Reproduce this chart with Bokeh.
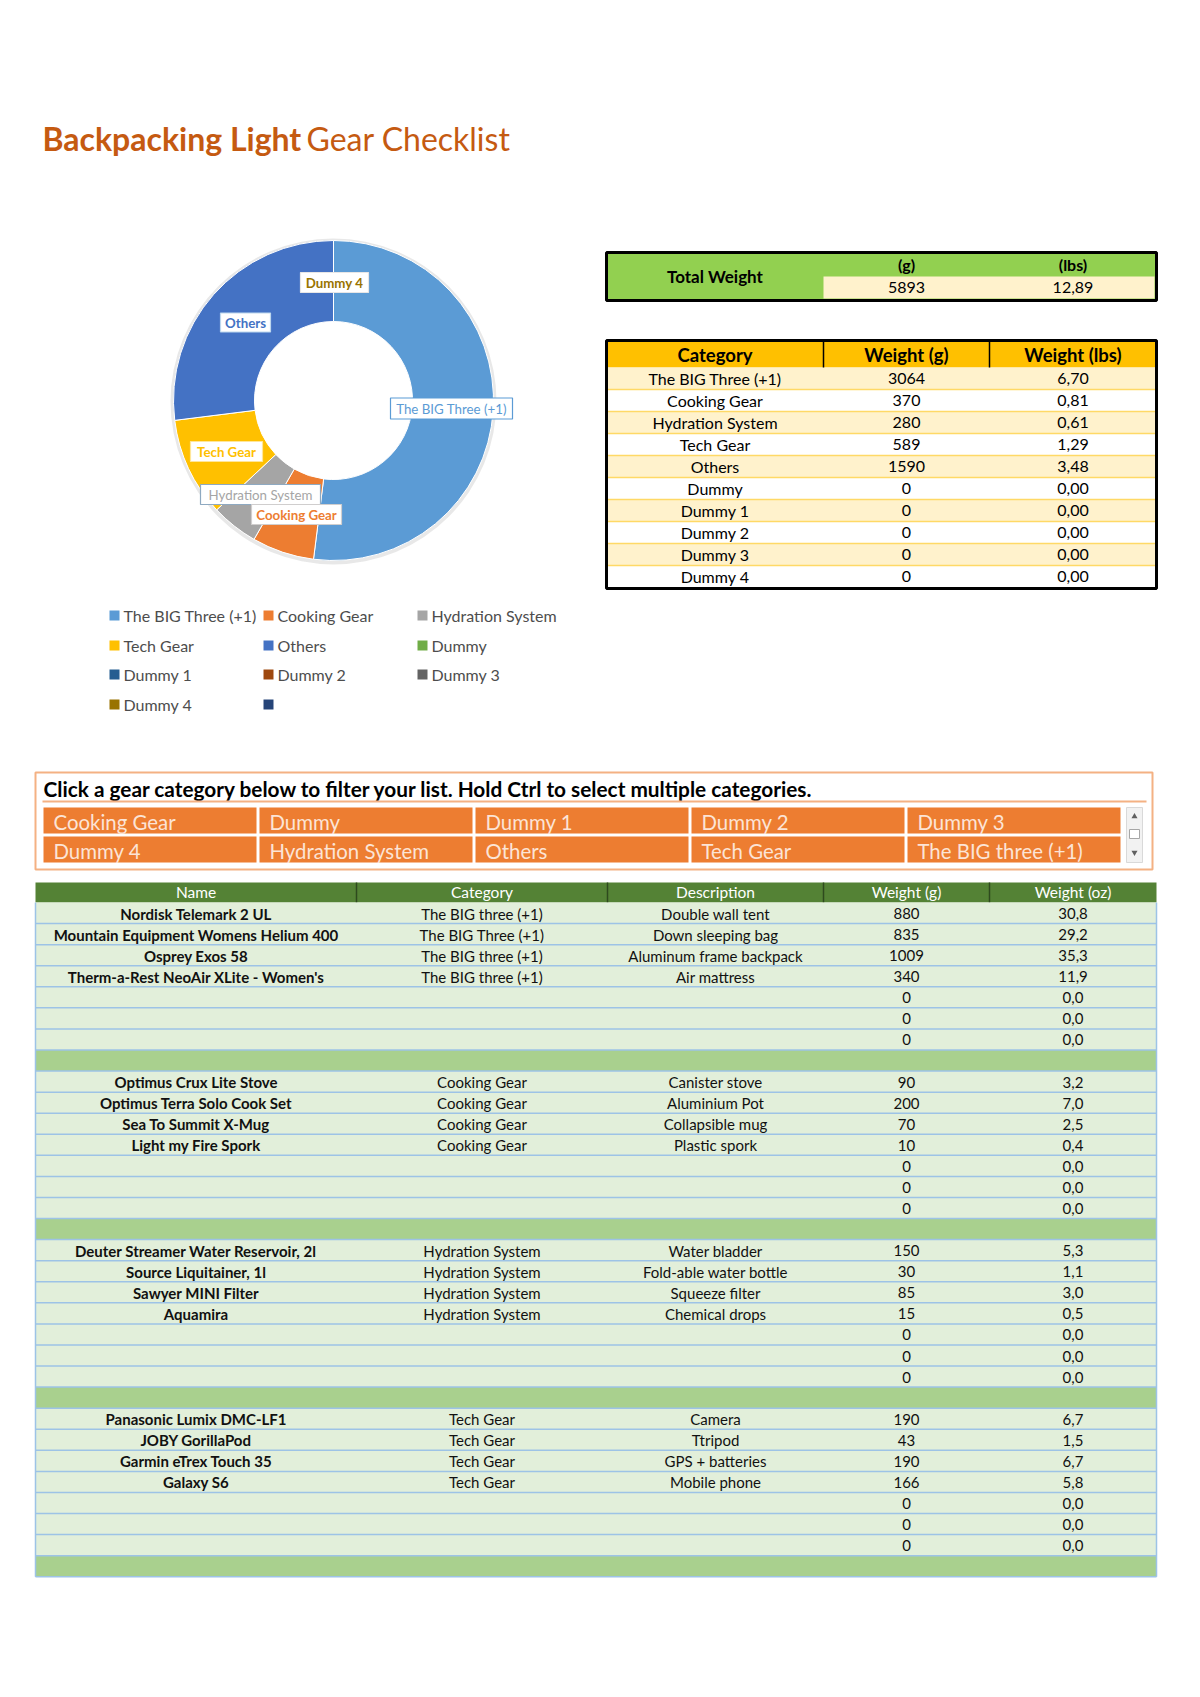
import numpy as np
from bokeh.plotting import figure
from bokeh.models import Range1d, ColumnDataSource
from bokeh.core.properties import value
from bokeh.embed import file_html
from bokeh.resources import INLINE

# ---------------- data ----------------
title_bold = "Backpacking Light"
title_regular = "Gear Checklist"

chart_categories = ["The BIG Three (+1)", "Cooking Gear", "Hydration System", "Tech Gear", "Others",
                    "Dummy", "Dummy 1", "Dummy 2", "Dummy 3", "Dummy 4", ""]
chart_weights_g = [3064, 370, 280, 589, 1590, 0, 0, 0, 0, 0, 0]
chart_colors = ["#5B9BD5", "#ED7D31", "#A5A5A5", "#FFC000", "#4472C4",
                "#70AD47", "#255E91", "#9E480E", "#636363", "#997300", "#264478"]

summary_header = ["Category", "Weight (g)", "Weight (lbs)"]
summary_categories = ["The BIG Three (+1)", "Cooking Gear", "Hydration System", "Tech Gear", "Others",
                      "Dummy", "Dummy 1", "Dummy 2", "Dummy 3", "Dummy 4"]
summary_weights_g = [3064, 370, 280, 589, 1590, 0, 0, 0, 0, 0]
summary_weights_lbs = [6.70, 0.81, 0.61, 1.29, 3.48, 0.00, 0.00, 0.00, 0.00, 0.00]

total_label = "Total Weight"
total_units = ["(g)", "(lbs)"]
total_weight_g = 5893
total_weight_lbs = 12.89

filter_title = "Click a gear category below to filter your list. Hold Ctrl to select multiple categories."
filter_buttons = ["Cooking Gear", "Dummy", "Dummy 1", "Dummy 2", "Dummy 3",
                  "Dummy 4", "Hydration System", "Others", "Tech Gear", "The BIG three (+1)"]

gear_header = ["Name", "Category", "Description", "Weight (g)", "Weight (oz)"]
gear_names = [
    "Nordisk Telemark 2 UL", "Mountain Equipment Womens Helium 400", "Osprey Exos 58",
    "Therm-a-Rest NeoAir XLite - Women's", "", "", "",
    "Optimus Crux Lite Stove", "Optimus Terra Solo Cook Set", "Sea To Summit X-Mug",
    "Light my Fire Spork", "", "", "",
    "Deuter Streamer Water Reservoir, 2l", "Source Liquitainer, 1l", "Sawyer MINI Filter",
    "Aquamira", "", "", "",
    "Panasonic Lumix DMC-LF1", "JOBY GorillaPod", "Garmin eTrex Touch 35", "Galaxy S6", "", "", "",
]
gear_categories = [
    "The BIG three (+1)", "The BIG Three (+1)", "The BIG three (+1)", "The BIG three (+1)", "", "", "",
    "Cooking Gear", "Cooking Gear", "Cooking Gear", "Cooking Gear", "", "", "",
    "Hydration System", "Hydration System", "Hydration System", "Hydration System", "", "", "",
    "Tech Gear", "Tech Gear", "Tech Gear", "Tech Gear", "", "", "",
]
gear_descriptions = [
    "Double wall tent", "Down sleeping bag", "Aluminum frame backpack", "Air mattress", "", "", "",
    "Canister stove", "Aluminium Pot", "Collapsible mug", "Plastic spork", "", "", "",
    "Water bladder", "Fold-able water bottle", "Squeeze filter", "Chemical drops", "", "", "",
    "Camera", "Ttripod", "GPS + batteries", "Mobile phone", "", "", "",
]
gear_weights_g = [880, 835, 1009, 340, 0, 0, 0,
                  90, 200, 70, 10, 0, 0, 0,
                  150, 30, 85, 15, 0, 0, 0,
                  190, 43, 190, 166, 0, 0, 0]
gear_weights_oz = [30.8, 29.2, 35.3, 11.9, 0.0, 0.0, 0.0,
                   3.2, 7.0, 2.5, 0.4, 0.0, 0.0, 0.0,
                   5.3, 1.1, 3.0, 0.5, 0.0, 0.0, 0.0,
                   6.7, 1.5, 6.7, 5.8, 0.0, 0.0, 0.0]

# ---------------- page setup (page pixel coordinates, y down -> plotted as -y) ----------------
W, H = 1184, 1681
FONT = "Lato"
p = figure(width=W, height=H, x_range=Range1d(0, W), y_range=Range1d(-H, 0),
           output_backend="svg", toolbar_location=None, min_border=0,
           x_axis_location=None, y_axis_location=None, outline_line_color=None)
p.grid.visible = False
p.background_fill_color = "white"
p.border_fill_color = "white"


def comma(v, d):
    return f"{v:.{d}f}".replace(".", ",")


def boxes(l, r, t, b, fill, line=None, lw=1.0, alpha=1.0):
    n = len(l)
    fill = fill if isinstance(fill, list) else [fill] * n
    line = line if isinstance(line, list) else [line] * n
    src = ColumnDataSource(dict(left=l, right=r, top=[-v for v in t], bottom=[-v for v in b],
                                fill=fill, line=line))
    p.quad(left="left", right="right", top="top", bottom="bottom", source=src,
           fill_color="fill", line_color="line", line_width=lw, fill_alpha=alpha)


def segs(x0, y0, x1, y1, color, lw):
    p.segment(x0=x0, y0=[-v for v in y0], x1=x1, y1=[-v for v in y1], line_color=color, line_width=lw)


def texts(xs, ys, labels, size, color, bold=False, align="center", baseline="middle", font=FONT):
    n = len(xs)
    color = color if isinstance(color, list) else [color] * n
    src = ColumnDataSource(dict(x=xs, y=[-v for v in ys], t=labels, c=color))
    p.text(x="x", y="y", text="t", source=src, text_color="c", text_font=value(font),
           text_font_size=value(f"{size}px"), text_font_style="bold" if bold else "normal",
           text_align=align, text_baseline=baseline)


# ---------------- title ----------------
texts([42], [138], [title_bold], 32, "#C55A11", bold=True, align="left", baseline="alphabetic")
texts([306], [138], [title_regular], 32, "#C55A11", bold=False, align="left", baseline="alphabetic")

# ---------------- donut ----------------
CX, CY, R_OUT, R_IN = 333, 400, 160, 79
vals = np.array(chart_weights_g, dtype=float)
frac = vals / vals.sum()
cum = np.concatenate([[0.0], np.cumsum(frac)])
start = np.pi / 2 - 2 * np.pi * cum[:-1]
end = np.pi / 2 - 2 * np.pi * cum[1:]
keep = vals > 0
p.annulus(x=[CX], y=[-CY - 1], inner_radius=R_OUT - 2, outer_radius=R_OUT + 3,
          fill_color="#D9D9D9", fill_alpha=0.6, line_color=None)
wsrc = ColumnDataSource(dict(x=[CX] * int(keep.sum()), y=[-CY] * int(keep.sum()),
                             s=list(start[keep]), e=list(end[keep]),
                             c=[c for c, k in zip(chart_colors, keep) if k]))
p.annular_wedge(x="x", y="y", inner_radius=R_IN, outer_radius=R_OUT, start_angle="s", end_angle="e",
                direction="clock", fill_color="c", line_color="white", line_width=1, source=wsrc)

# data labels (layout: center x, center y, box w, box h, border colour, bold)
label_layout = {
    "Dummy 4": (334, 282, 68, 20, "#E7E6E6", True),
    "Others": (245, 322, 50, 19, "#BDD7EE", True),
    "The BIG Three (+1)": (451, 408, 122, 21, "#5B9BD5", False),
    "Tech Gear": (226, 451, 72, 20, "#FFE699", True),
    "Hydration System": (260, 494, 120, 20, "#8EA9C1", False),
    "Cooking Gear": (296, 514, 90, 20, "#D0CECE", True),
}
for name in ["Dummy 4", "Others", "The BIG Three (+1)", "Tech Gear", "Hydration System", "Cooking Gear"]:
    lx, ly, bw, bh, border, bold = label_layout[name]
    col = chart_colors[chart_categories.index(name)]
    boxes([lx - bw / 2], [lx + bw / 2], [ly - bh / 2], [ly + bh / 2], "white", border, 1.2)
    texts([lx], [ly + 0.5], [name], 13.3, col, bold=bold)

# legend
leg_cols = [109, 263, 417]
leg_rows = [615, 645, 674, 704]
lx, ly, ll = [], [], []
for i, (name, col) in enumerate(zip(chart_categories, chart_colors)):
    x = leg_cols[i % 3]
    y = leg_rows[i // 3]
    boxes([x], [x + 10], [y - 5], [y + 5], col, None)
    lx.append(x + 14); ly.append(y); ll.append(name)
texts(lx, ly, ll, 16, "#4D4D4D", align="left")

# ---------------- total weight box ----------------
TL, TR, TT, TB = 606, 1156, 252, 300
C1, C2 = 823, 989
boxes([TL], [TR], [TT], [TB], "#92D050", "black", 3)
boxes([C1], [TR - 2], [276], [TB - 2], "#FFF2CC", None)
texts([(TL + C1) / 2], [276], [total_label], 17, "black", bold=True)
texts([(C1 + C2) / 2, (C2 + TR) / 2], [264, 264], total_units, 16, "black", bold=True)
texts([(C1 + C2) / 2, (C2 + TR) / 2], [287, 287],
      [str(total_weight_g), comma(total_weight_lbs, 2)], 16, "black")

# ---------------- category summary table ----------------
ST, HB, RH = 341, 367, 22.0
n = len(summary_categories)
SB = HB + n * RH
boxes([TL], [TR], [ST], [HB], "#FFC000", None)
rt = [HB + i * RH for i in range(n)]
boxes([TL] * n, [TR] * n, rt, [t + RH for t in rt],
      ["#FFF2CC" if i % 2 == 0 else "#FFFFFF" for i in range(n)], None)
segs([TL] * (n - 1), rt[1:], [TR] * (n - 1), rt[1:], "#FFD966", 1.5)
segs([C1, C2], [ST, ST], [C1, C2], [HB, HB], "black", 1.5)
boxes([TL], [TR], [ST - 1], [SB + 1], None, "black", 3)
cx3 = [(TL + C1) / 2, (C1 + C2) / 2, (C2 + TR) / 2]
texts(cx3, [354] * 3, summary_header, 18.5, "black", bold=True)
cy = [t + RH / 2 for t in rt]
texts([cx3[0]] * n, cy, summary_categories, 16, "black")
texts([cx3[1]] * n, cy, [str(v) for v in summary_weights_g], 16, "black")
texts([cx3[2]] * n, cy, [comma(v, 2) for v in summary_weights_lbs], 16, "black")

# ---------------- filter (slicer) box ----------------
FL, FR, FT, FB = 35, 1152, 772, 869
boxes([FL], [FR], [FT], [FB], "white", "#F4B183", 2)
texts([43], [788], [filter_title], 20.8, "black", bold=True, align="left")
segs([42], [801], [1146], [801], "#F4B183", 2)
bx0, bw, gap = 43, 213, 3
brow = [(807, 833), (836, 862)]
bl, br, bt, bb, tx, ty = [], [], [], [], [], []
for i, name in enumerate(filter_buttons):
    c, r = i % 5, i // 5
    l = bx0 + c * (bw + gap)
    bl.append(l); br.append(l + bw); bt.append(brow[r][0]); bb.append(brow[r][1])
    tx.append(l + 10); ty.append((brow[r][0] + brow[r][1]) / 2 + 1)
boxes(bl, br, bt, bb, "#ED7D31", None)
texts(tx, ty, filter_buttons, 20.4, "#FCE4D6", align="left")
# scrollbar
boxes([1126], [1142], [807], [862], "#F2F2F2", "#D9D9D9", 1)
boxes([1129], [1139], [829], [838], "#FFFFFF", "#A6A6A6", 1)
p.scatter(x=[1134], y=[-816], marker="triangle", size=6, fill_color="#606060", line_color=None)
p.scatter(x=[1134], y=[-852], marker="inverted_triangle", size=6, fill_color="#606060", line_color=None)

# ---------------- gear table ----------------
GX = [35, 356, 607, 823, 989, 1156]
GHT, GHB = 882, 902
GRH = 21.07
boxes([GX[0]], [GX[-1]], [GHT], [GHB], "#548235", None)
segs(GX[1:-1], [GHT] * 4, GX[1:-1], [GHB] * 4, "#2E4A1E", 1.5)
gcx = [(GX[i] + GX[i + 1]) / 2 for i in range(5)]
texts(gcx, [GHT + 9] * 5, gear_header, 15.5, "white")

n_items = len(gear_names)
per_sec = 7
n_sec = n_items // per_sec
n_rows = n_sec * (per_sec + 1)
row_top = [GHB + r * GRH for r in range(n_rows)]
fills = ["#A9D08E" if (r % (per_sec + 1)) == per_sec else "#E2EFDA" for r in range(n_rows)]
boxes([GX[0]] * n_rows, [GX[-1]] * n_rows, row_top, [t + GRH for t in row_top], fills, None)
lines_y = row_top[1:] + [row_top[-1] + GRH]
segs([GX[0]] * len(lines_y), lines_y, [GX[-1]] * len(lines_y), lines_y, "#9DC3E6", 1.5)
segs([GX[0], GX[-1]], [GHB, GHB], [GX[0], GX[-1]], [lines_y[-1], lines_y[-1]], "#9DC3E6", 1.5)

item_y = []
for i in range(n_items):
    r = (i // per_sec) * (per_sec + 1) + i % per_sec
    item_y.append(row_top[r] + GRH / 2 + 0.5)
texts([gcx[0]] * n_items, item_y, gear_names, 15, "#111111", bold=True)
texts([gcx[1]] * n_items, item_y, gear_categories, 15, "#111111")
texts([gcx[2]] * n_items, item_y, gear_descriptions, 15, "#111111")
texts([gcx[3]] * n_items, item_y, [str(v) for v in gear_weights_g], 15, "#111111")
texts([gcx[4]] * n_items, item_y, [comma(v, 1) for v in gear_weights_oz], 15, "#111111")

open("out.html", "w").write(file_html(p, INLINE))
